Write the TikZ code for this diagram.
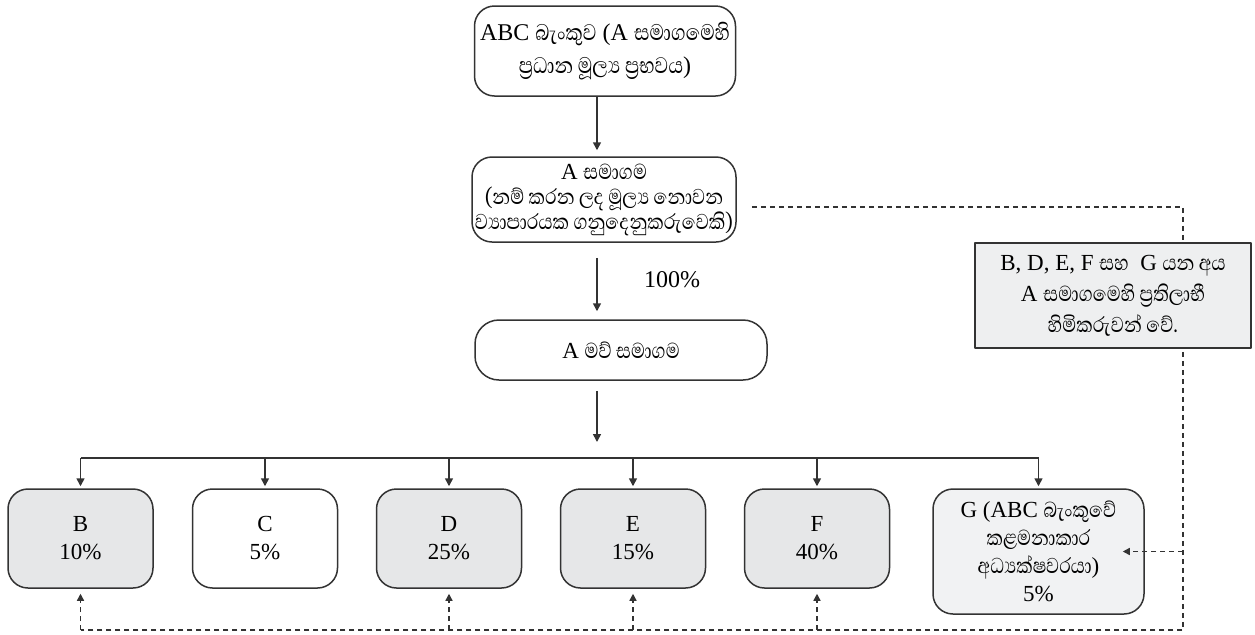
\documentclass[tikz,border=0pt]{standalone}
\usepackage{fontspec}
\setmainfont{Liberation Serif}
\newfontfamily\sifont[Script=Sinhala,Scale=1.2,FakeStretch=0.84]{Abhaya Libre}
\usetikzlibrary{arrows.meta}
\usepackage{xcolor}
\definecolor{boxgray}{HTML}{E6E7E8}
\definecolor{palegray}{HTML}{F1F2F3}
\definecolor{notegray}{HTML}{EEEFF0}
\definecolor{ink}{HTML}{333333}
\newcommand{\snh}[1]{{\sifont #1}}

\begin{document}
\begin{tikzpicture}[
  x=0.5pt,y=-0.5pt,
  line cap=butt,line join=round,
  font=\fontsize{11.5}{16}\selectfont,
  box/.style={draw=ink,line width=0.75pt,rounded corners=10pt,align=center,inner sep=0pt},
  member/.style={box,minimum width=72.5pt,minimum height=49.5pt,font=\fontsize{11.5}{14}\selectfont},
  flow/.style={-{Triangle[length=4pt,width=4pt]},draw=ink,line width=0.8pt},
  link/.style={draw=ink,line width=0.7pt,dash pattern=on 2.5pt off 2pt},
  linkarrow/.style={link,-{Triangle[length=3.5pt,width=3.5pt]}}
]
  \path[use as bounding box] (0,0) rectangle (1255,634);

  \node[box,minimum width=130.5pt,minimum height=45pt,font=\fontsize{12}{16.5}\selectfont] (bank) at (605,51)
    {ABC \snh{බැංකුව} (A \snh{සමාගමෙහි}\\
     \snh{ප්^^^^200dරධාන මූල්^^^^200dය ප්^^^^200dරභවය})};
  \node[box,minimum width=132pt,minimum height=42.5pt,font=\fontsize{11.5}{12.5}\selectfont] (client) at (604,199.5)
    {A \snh{සමාගම}\\
     \snh{(නම් කරන ලද මූල්^^^^200dය නොවන}\\
     \snh{ව්^^^^200dයාපාරයක ගනුදෙනුකරුවෙකි)}};
  \node[box,rounded corners=12pt,minimum width=146pt,minimum height=30pt] (parent) at (621,350)
    {A \snh{මව් සමාගම}};
  \node[font=\fontsize{12}{14}\selectfont] (share) at (672,280) {100\%};

  \foreach \name/\x/\pct/\shade in {B/80.5/10/boxgray,C/265/5/white,D/449/25/boxgray,E/633/15/boxgray,F/817/40/boxgray} {
    \node[member,fill=\shade] (\name) at (\x,538.5) {\name\\\pct\%};
  }
  \node[member,fill=palegray,minimum width=105.5pt,minimum height=62.5pt] (G) at (1038.5,551.5)
    {G (ABC \snh{බැංකුවේ}\\ \snh{කළමනාකාර}\\ \snh{අධ්^^^^200dයක්ෂවරයා})\\ 5\%};

  \coordinate (spine) at (597,0);
  \coordinate (bus) at (597,458);
  \coordinate (corner) at (1183,207);
  \coordinate (floor) at (1183,630);

  \draw[flow,shorten >=3pt] (bank.south -| spine) -- (client.north -| spine);
  \draw[flow,shorten <=7.5pt,shorten >=4pt] (client.south -| spine) -- (parent.north -| spine);
  \draw[flow,shorten <=5pt,shorten >=8pt] (parent.south -| spine) -- (bus);
  \draw[ink,line width=0.8pt] (B.north |- bus) -- (G.north |- bus);
  \foreach \n in {B,C,D,E,F,G} {
    \draw[flow,shorten >=1pt] (\n.north |- bus) -- (\n.north);
  }

  % beneficial owners
  \draw[link,shorten <=7.5pt] (client.east |- corner) -- (corner) -- (floor) -- (B.south |- floor);
  \foreach \n in {B,D,E,F} {
    \draw[linkarrow,shorten >=2.5pt] (\n.south |- floor) -- (\n.south);
  }
  \draw[linkarrow,shorten >=-11pt] (G.east -| floor) -- (G.east);

  \node[draw=ink,fill=notegray,line width=0.75pt,minimum width=138pt,minimum height=52.5pt,align=center,inner sep=0pt,
        font=\fontsize{11.5}{15.5}\selectfont] (note) at (1113,295.5)
    {B, D, E, F \snh{සහ}\ \ G \snh{යන අය}\\
     A \snh{සමාගමෙහි ප්^^^^200dරතිලාභී}\\
     \snh{හිමිකරුවන් වේ.}};
\end{tikzpicture}
\end{document}
